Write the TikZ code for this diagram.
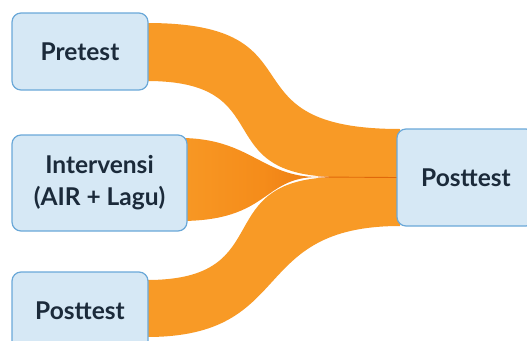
\documentclass[tikz,border=0pt]{standalone}
\usepackage{fontspec}
\setmainfont{Lato}
\usetikzlibrary{calc}
\definecolor{boxfill}{HTML}{D6E8F5}
\definecolor{boxline}{HTML}{6AA8D8}
\definecolor{txt}{HTML}{1B2A3A}
\definecolor{oA}{HTML}{EC7812}
\definecolor{oB}{HTML}{F89A26}
\definecolor{oC}{HTML}{F58C1A}
\definecolor{oD}{HTML}{E0680A}
\pgfdeclarehorizontalshading{bandshade}{100bp}{color(0bp)=(oA); color(20bp)=(oB); color(80bp)=(oB); color(100bp)=(oC)}
\pgfdeclarehorizontalshading{midshade}{100bp}{color(0bp)=(oA); color(20bp)=(oB); color(55bp)=(oC); color(100bp)=(oD)}
\tikzset{
  stage/.style={draw=boxline, fill=boxfill, line width=1.2pt, rounded corners=9pt,
    text=txt, font=\fontsize{24.5}{32}\selectfont\bfseries, align=center, inner sep=0pt},
  band/.style={shading=bandshade},
  midband/.style={shading=midshade},
  seam/.style={draw=oD, line width=0.9pt}
}
\begin{document}
\begin{tikzpicture}[x=1pt,y=-1pt]
\useasboundingbox (0,0) rectangle (527,340);
\clip (0,0) rectangle (527,340);
% bands
\path[midband] (180,138) .. controls (250,138) and (262,177) .. (318,177)
  .. controls (262,177) and (270,221) .. (180,221) -- cycle;
\path[band] (140,23) -- (147,23) .. controls (327,23) and (217,129) .. (400,129)
  -- (400,177) -- (340,177) .. controls (205,177) and (282,81) .. (147,81) -- (140,81) -- cycle;
\path[band] (140,280) -- (147,280) .. controls (282,280) and (205,177) .. (340,177)
  -- (400,177) -- (400,226) .. controls (247,226) and (297,337) .. (147,337) -- (140,337) -- cycle;
\coordinate (tip) at (318,177);
% boxes
\node[stage, minimum width=136pt, minimum height=77pt] (pre) at (80,51.5) {Pretest};
\node[stage, minimum width=175pt, minimum height=96pt] (int) at (99.5,183) {Intervensi\\(AIR + Lagu)};
\node[stage, minimum width=136pt, minimum height=78pt] (postL) at (80,311) {Posttest};
\node[stage, minimum width=138pt, minimum height=97pt] (postR) at (466,177.5) {Posttest};
\draw[seam] (tip) -- (postR.west);
\end{tikzpicture}
\end{document}
